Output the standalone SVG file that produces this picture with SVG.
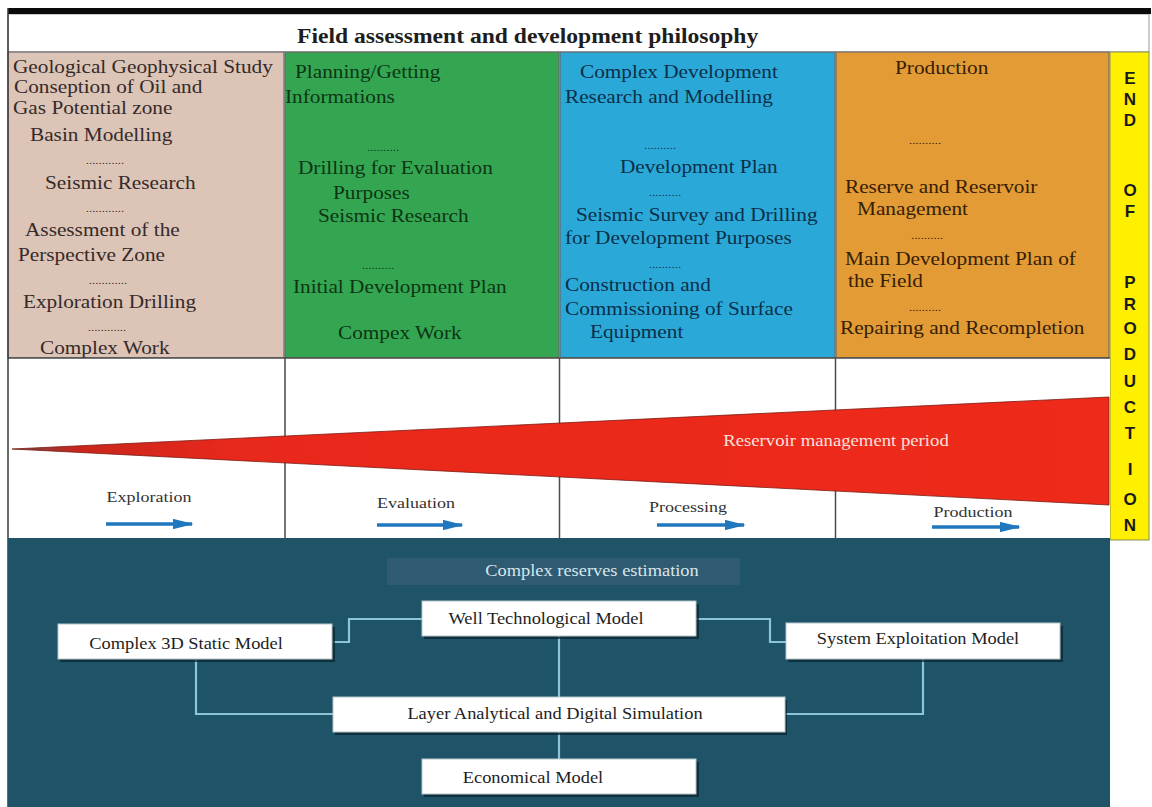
<svg xmlns="http://www.w3.org/2000/svg" width="1152" height="807" viewBox="0 0 1152 807">
<defs>
<style>
.col{font-family:"Liberation Serif","Times New Roman",serif;font-size:18.5px}
.c1{fill:#352a2a}
.c2{fill:#0d3514}
.c3{fill:#0b2f4a}
.c4{fill:#352006}
.dots{font-family:"Liberation Serif",serif;font-size:11px;text-anchor:middle}
.colbox{stroke:#6a6a6a;stroke-width:1.2}
.phase{font-family:"Liberation Serif",serif;font-size:15px;fill:#333;text-anchor:middle}
.box{fill:#fff;stroke:#b8c6cb;stroke-width:1}
.shadow{fill:#0b2630;opacity:0.75}
.blabel{font-family:"Liberation Serif",serif;font-size:16px;fill:#1e1e1e;text-anchor:middle}
.conn{fill:none;stroke:#8cc4d8;stroke-width:2.2}
.end{font-family:"Liberation Sans",Arial,sans-serif;font-weight:bold;font-size:17px;fill:#1a1a1a;text-anchor:middle}
.grid{stroke:#4a4a4a;stroke-width:1.5}
.arr{stroke:#1f77be;stroke-width:3.5;marker-end:url(#ah)}
</style>
<marker id="ah" viewBox="0 0 12 6" refX="11" refY="3" markerWidth="6" markerHeight="3" orient="auto" markerUnits="strokeWidth">
<path d="M0,0 L12,3 L0,6 z" fill="#1f77be"/>
</marker>
<linearGradient id="redg" x1="0" y1="0" x2="1" y2="0">
<stop offset="0" stop-color="#6b4a48"/>
<stop offset="0.06" stop-color="#c8261c"/>
<stop offset="0.2" stop-color="#e8281b"/>
<stop offset="1" stop-color="#ee2a1a"/>
</linearGradient>
</defs>

<rect x="0" y="0" width="1152" height="807" fill="#ffffff"/>

<g id="header">
<rect x="8" y="14" width="1141" height="38" fill="#ffffff" stroke="#9a9a9a" stroke-width="1"/>
<rect x="8" y="8" width="1143" height="6" fill="#0a0a0a"/>
<text font-family="Liberation Serif,serif" font-weight="bold" font-size="20" fill="#1e1e1e" transform="translate(297 43) scale(1.18 1)">Field assessment and development philosophy</text>
</g>

<g id="col-exploration">
<rect class="colbox" x="8" y="52" width="276" height="306" fill="#dcc4b6"/>
<text class="col c1" transform="translate(13 73) scale(1.15 1)">Geological Geophysical Study</text>
<text class="col c1" transform="translate(14 93) scale(1.15 1)">Conseption of Oil and</text>
<text class="col c1" transform="translate(13 114) scale(1.15 1)">Gas Potential zone</text>
<text class="col c1" transform="translate(30 141) scale(1.15 1)">Basin Modelling</text>
<text class="dots c1" transform="translate(105 164) scale(1.17 1)">............</text>
<text class="col c1" transform="translate(45 189) scale(1.15 1)">Seismic Research</text>
<text class="dots c1" transform="translate(105 212) scale(1.17 1)">............</text>
<text class="col c1" transform="translate(25 236) scale(1.15 1)">Assessment of the</text>
<text class="col c1" transform="translate(18 261) scale(1.15 1)">Perspective Zone</text>
<text class="dots c1" transform="translate(108 284) scale(1.17 1)">............</text>
<text class="col c1" transform="translate(23 308) scale(1.15 1)">Exploration Drilling</text>
<text class="dots c1" transform="translate(107 331) scale(1.17 1)">............</text>
<text class="col c1" transform="translate(40 354) scale(1.15 1)">Complex Work</text>
</g>

<g id="col-evaluation">
<rect class="colbox" x="285" y="52" width="274" height="306" fill="#34a651"/>
<text class="col c2" transform="translate(295 78) scale(1.15 1)">Planning/Getting</text>
<text class="col c2" transform="translate(285 103) scale(1.15 1)">Informations</text>
<text class="dots c2" transform="translate(383 151) scale(1.17 1)">..........</text>
<text class="col c2" transform="translate(298 174) scale(1.15 1)">Drilling for Evaluation</text>
<text class="col c2" transform="translate(333 199) scale(1.15 1)">Purposes</text>
<text class="col c2" transform="translate(318 222) scale(1.15 1)">Seismic Research</text>
<text class="dots c2" transform="translate(378 269) scale(1.17 1)">..........</text>
<text class="col c2" transform="translate(293 293) scale(1.15 1)">Initial Development Plan</text>
<text class="col c2" transform="translate(338 339) scale(1.15 1)">Compex Work</text>
</g>

<g id="col-processing">
<rect class="colbox" x="560" y="52" width="275" height="306" fill="#2aa9d8"/>
<text class="col c3" transform="translate(580 78) scale(1.15 1)">Complex Development</text>
<text class="col c3" transform="translate(565 103) scale(1.15 1)">Research and Modelling</text>
<text class="dots c3" transform="translate(660 149) scale(1.17 1)">..........</text>
<text class="col c3" transform="translate(620 173) scale(1.15 1)">Development Plan</text>
<text class="dots c3" transform="translate(665 196) scale(1.17 1)">..........</text>
<text class="col c3" transform="translate(576 221) scale(1.15 1)">Seismic Survey and Drilling</text>
<text class="col c3" transform="translate(565 244) scale(1.15 1)">for Development Purposes</text>
<text class="dots c3" transform="translate(665 268) scale(1.17 1)">..........</text>
<text class="col c3" transform="translate(565 291) scale(1.15 1)">Construction and</text>
<text class="col c3" transform="translate(565 315) scale(1.15 1)">Commissioning of Surface</text>
<text class="col c3" transform="translate(590 338) scale(1.15 1)">Equipment</text>
</g>

<g id="col-production">
<rect class="colbox" x="836" y="52" width="273" height="306" fill="#e39b35"/>
<text class="col c4" transform="translate(895 74) scale(1.15 1)">Production</text>
<text class="dots c4" transform="translate(925 144) scale(1.17 1)">..........</text>
<text class="col c4" transform="translate(845 193) scale(1.15 1)">Reserve and Reservoir</text>
<text class="col c4" transform="translate(857 215) scale(1.15 1)">Management</text>
<text class="dots c4" transform="translate(927 239) scale(1.17 1)">..........</text>
<text class="col c4" transform="translate(845 265) scale(1.15 1)">Main Development Plan of</text>
<text class="col c4" transform="translate(848 287) scale(1.15 1)">the Field</text>
<text class="dots c4" transform="translate(925 311) scale(1.17 1)">..........</text>
<text class="col c4" transform="translate(840 334) scale(1.15 1)">Repairing and Recompletion</text>
</g>

<g id="end-of-production">
<rect x="1110" y="52" width="39" height="488" fill="#fff000" stroke="#8a8a5a" stroke-width="1"/>
<text class="end"><tspan x="1130" y="84">E</tspan><tspan x="1130" y="105">N</tspan><tspan x="1130" y="126">D</tspan><tspan x="1130" y="196">O</tspan><tspan x="1130" y="217">F</tspan><tspan x="1130" y="288">P</tspan><tspan x="1130" y="310">R</tspan><tspan x="1130" y="334">O</tspan><tspan x="1130" y="360">D</tspan><tspan x="1130" y="387">U</tspan><tspan x="1130" y="413">C</tspan><tspan x="1130" y="439">T</tspan><tspan x="1130" y="475">I</tspan><tspan x="1130" y="505">O</tspan><tspan x="1130" y="531">N</tspan></text>
</g>

<g id="phase-row">
<rect x="8" y="358" width="1102" height="180" fill="#ffffff"/>
<line class="grid" x1="285" y1="358" x2="285" y2="538"/>
<line class="grid" x1="559.5" y1="358" x2="559.5" y2="538"/>
<line class="grid" x1="835.5" y1="358" x2="835.5" y2="538"/>
<line class="grid" x1="8" y1="358" x2="1110" y2="358"/>
</g>

<g id="reservoir-period">
<polygon points="12,449 1109,397 1109,505" fill="url(#redg)" stroke="#7a1a12" stroke-width="0.8"/>
<text font-family="Liberation Serif,serif" font-size="16" fill="#f7e0dc" text-anchor="middle" transform="translate(836 446) scale(1.17 1)">Reservoir management period</text>
</g>

<g id="phase-labels">
<text class="phase" transform="translate(149 502) scale(1.2 1)">Exploration</text>
<line class="arr" x1="106" y1="524" x2="192" y2="524"/>
<text class="phase" transform="translate(416 508) scale(1.2 1)">Evaluation</text>
<line class="arr" x1="377" y1="525" x2="462" y2="525"/>
<text class="phase" transform="translate(688 512) scale(1.2 1)">Processing</text>
<line class="arr" x1="657" y1="525" x2="744" y2="525"/>
<text class="phase" transform="translate(973 517) scale(1.2 1)">Production</text>
<line class="arr" x1="932" y1="527" x2="1019" y2="527"/>
</g>

<g id="borders">
<line x1="8" y1="8" x2="8" y2="807" stroke="#3a3a3a" stroke-width="1.5"/>
</g>

<g id="model-panel">
<rect x="8" y="538" width="1102" height="269" fill="#1f5468"/>
</g>

<g id="connectors">
<path class="conn" d="M332,642 H349 V619 H422"/>
<path class="conn" d="M696,619 H770 V642 H786"/>
<path class="conn" d="M559,636 V759"/>
<path class="conn" d="M196,659 V714 H333"/>
<path class="conn" d="M923,659 V714 H785"/>
</g>

<g id="n-reserves">
<rect x="387" y="558" width="353" height="27" fill="#2e5a72"/>
<text font-family="Liberation Serif,serif" font-size="16" fill="#d9e6ec" text-anchor="middle" transform="translate(592 576) scale(1.15 1)">Complex reserves estimation</text>
</g>

<g id="n-well">
<rect class="shadow" x="424" y="604" width="275" height="35"/>
<rect class="box" x="422" y="601" width="274" height="35"/>
<text class="blabel" transform="translate(546 624) scale(1.15 1)">Well Technological Model</text>
</g>

<g id="n-static">
<rect class="shadow" x="60" y="627" width="275" height="35"/>
<rect class="box" x="58" y="624" width="274" height="35"/>
<text class="blabel" transform="translate(186 649) scale(1.15 1)">Complex 3D Static Model</text>
</g>

<g id="n-system">
<rect class="shadow" x="788" y="626" width="275" height="36"/>
<rect class="box" x="786" y="623" width="274" height="36"/>
<text class="blabel" transform="translate(918 644) scale(1.15 1)">System Exploitation Model</text>
</g>

<g id="n-layer">
<rect class="shadow" x="335" y="700" width="452" height="35"/>
<rect class="box" x="333" y="697" width="452" height="35"/>
<text class="blabel" transform="translate(555 719) scale(1.15 1)">Layer Analytical and Digital Simulation</text>
</g>

<g id="n-econ">
<rect class="shadow" x="424" y="762" width="275" height="35"/>
<rect class="box" x="422" y="759" width="274" height="35"/>
<text class="blabel" transform="translate(533 783) scale(1.15 1)">Economical Model</text>
</g>
</svg>
